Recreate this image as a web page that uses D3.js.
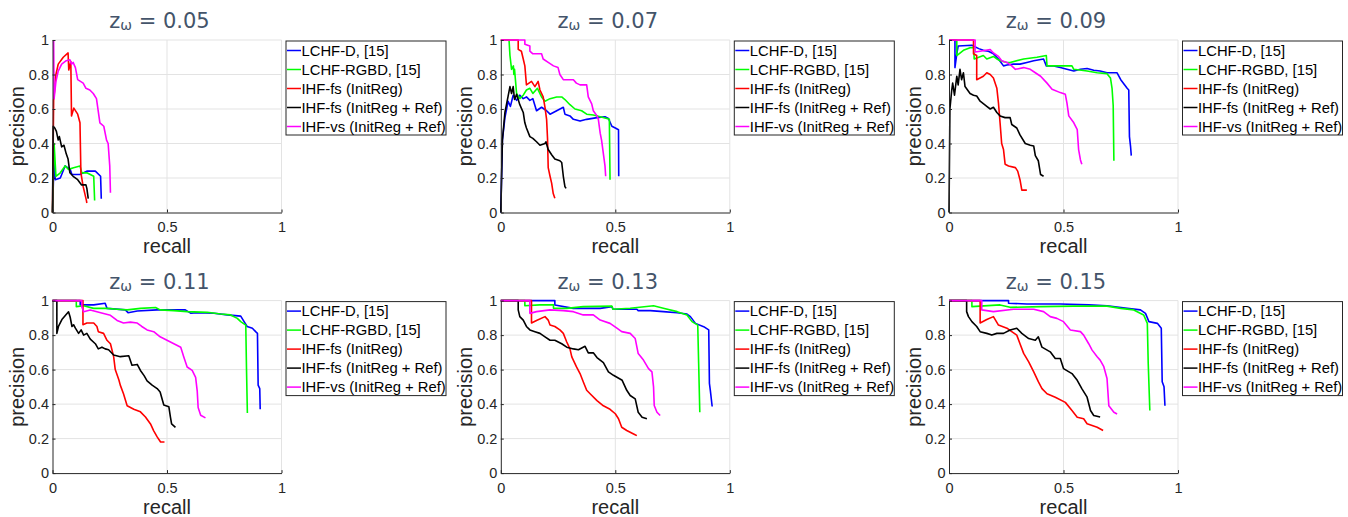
<!DOCTYPE html>
<html><head><meta charset="utf-8">
<script src="https://cdn.jsdelivr.net/npm/d3@7"></script>
<style>body{margin:0;background:#fff}svg{display:block}</style>
</head><body><svg id="c" width="1348" height="517"></svg>
<script>
// ---------- data ----------
const zValues = ["0.05", "0.07", "0.09", "0.11", "0.13", "0.15"];
const seriesNames = ["LCHF-D, [15]", "LCHF-RGBD, [15]", "IHF-fs (InitReg)", "IHF-fs (InitReg + Ref)", "IHF-vs (InitReg + Ref)"];
const seriesColors = ["#0000ff", "#00ff00", "#ff0000", "#000000", "#ff00ff"];
const xTicks = [0, 0.5, 1];
const yTicks = [0, 0.2, 0.4, 0.6, 0.8, 1];
const xLabel = "recall";
const yLabel = "precision";

// z = 0.05  ([recall, precision])
const lchfD_005 = [[0,0],[0.007,0.32],[0.012,0.19],[0.034,0.2],[0.055,0.27],[0.077,0.25],[0.085,0.22],[0.12,0.22],[0.15,0.24],[0.187,0.24],[0.21,0.21],[0.213,0.08]];
const lchfRGBD_005 = [[0,0],[0.007,0.4],[0.015,0.21],[0.034,0.23],[0.055,0.27],[0.07,0.25],[0.092,0.26],[0.12,0.27],[0.128,0.23],[0.15,0.23],[0.18,0.21],[0.184,0.07]];
const ihfFs_005 = [[0,0],[0.005,0.65],[0.015,0.8],[0.025,0.86],[0.047,0.9],[0.068,0.925],[0.071,0.826],[0.08,0.875],[0.083,0.56],[0.093,0.605],[0.11,0.57],[0.12,0.52],[0.124,0.23],[0.134,0.15],[0.148,0.07],[0.15,0.055]];
const ihfFsRef_005 = [[0,0],[0.003,0.5],[0.01,0.49],[0.017,0.47],[0.025,0.42],[0.03,0.44],[0.04,0.38],[0.05,0.39],[0.06,0.34],[0.068,0.31],[0.076,0.23],[0.09,0.21],[0.11,0.19],[0.127,0.16],[0.146,0.16],[0.15,0.14],[0.156,0.08]];
const ihfVs_005 = [[0.005,1],[0.007,0.66],[0.015,0.76],[0.025,0.82],[0.04,0.86],[0.06,0.88],[0.076,0.885],[0.083,0.86],[0.09,0.87],[0.1,0.84],[0.11,0.77],[0.134,0.75],[0.146,0.72],[0.163,0.71],[0.178,0.69],[0.192,0.66],[0.207,0.52],[0.224,0.5],[0.236,0.42],[0.243,0.4],[0.25,0.27],[0.253,0.115]];

// z = 0.07
const lchfD_007 = [[0,0],[0.007,0.42],[0.018,0.55],[0.032,0.645],[0.042,0.615],[0.054,0.68],[0.069,0.65],[0.083,0.68],[0.098,0.66],[0.112,0.67],[0.127,0.65],[0.14,0.66],[0.156,0.59],[0.178,0.61],[0.2,0.59],[0.215,0.57],[0.244,0.59],[0.273,0.61],[0.28,0.57],[0.302,0.56],[0.317,0.54],[0.346,0.53],[0.375,0.54],[0.42,0.55],[0.455,0.555],[0.47,0.545],[0.485,0.5],[0.5,0.49],[0.514,0.48],[0.515,0.21]];
const lchfRGBD_007 = [[0,1],[0.036,1],[0.04,0.91],[0.047,0.83],[0.055,0.85],[0.057,0.8],[0.06,0.83],[0.069,0.69],[0.083,0.66],[0.098,0.68],[0.112,0.71],[0.127,0.72],[0.14,0.69],[0.16,0.72],[0.178,0.67],[0.193,0.645],[0.215,0.66],[0.244,0.67],[0.266,0.67],[0.28,0.655],[0.302,0.625],[0.324,0.6],[0.353,0.59],[0.375,0.57],[0.404,0.565],[0.434,0.555],[0.463,0.545],[0.474,0.54],[0.477,0.19]];
const ihfFs_007 = [[0,1],[0.076,1],[0.076,0.946],[0.09,0.935],[0.098,0.89],[0.105,0.85],[0.112,0.74],[0.134,0.76],[0.149,0.73],[0.163,0.76],[0.171,0.71],[0.185,0.67],[0.193,0.61],[0.2,0.54],[0.204,0.43],[0.207,0.26],[0.215,0.21],[0.222,0.17],[0.229,0.11],[0.236,0.083]];
const ihfFsRef_007 = [[0,0],[0.007,0.42],[0.018,0.58],[0.032,0.675],[0.04,0.73],[0.047,0.69],[0.054,0.73],[0.06,0.655],[0.069,0.685],[0.083,0.625],[0.098,0.58],[0.105,0.52],[0.112,0.49],[0.127,0.44],[0.14,0.43],[0.156,0.41],[0.171,0.39],[0.193,0.4],[0.197,0.41],[0.207,0.365],[0.222,0.335],[0.236,0.31],[0.258,0.3],[0.266,0.29],[0.273,0.21],[0.28,0.15],[0.285,0.14]];
const ihfVs_007 = [[0,1],[0.105,1],[0.105,0.975],[0.127,0.965],[0.127,0.935],[0.14,0.92],[0.178,0.92],[0.185,0.89],[0.207,0.87],[0.23,0.85],[0.25,0.84],[0.258,0.8],[0.273,0.77],[0.317,0.77],[0.33,0.75],[0.346,0.74],[0.375,0.74],[0.382,0.67],[0.397,0.63],[0.404,0.59],[0.42,0.56],[0.426,0.54],[0.434,0.46],[0.44,0.42],[0.448,0.34],[0.455,0.27],[0.458,0.21]];

// z = 0.09
const lchfD_009 = [[0,1],[0.026,1],[0.026,0.84],[0.034,0.92],[0.04,0.965],[0.1,0.97],[0.13,0.95],[0.15,0.94],[0.172,0.935],[0.194,0.92],[0.216,0.89],[0.238,0.85],[0.253,0.855],[0.282,0.86],[0.31,0.86],[0.34,0.87],[0.37,0.88],[0.413,0.89],[0.425,0.85],[0.457,0.85],[0.486,0.84],[0.515,0.83],[0.545,0.82],[0.574,0.83],[0.603,0.835],[0.632,0.825],[0.66,0.82],[0.69,0.81],[0.734,0.81],[0.75,0.77],[0.778,0.72],[0.785,0.71],[0.788,0.44],[0.793,0.38],[0.796,0.33]];
const lchfRGBD_009 = [[0,1],[0.034,1],[0.034,0.91],[0.063,0.94],[0.092,0.955],[0.108,0.955],[0.11,0.89],[0.15,0.91],[0.165,0.89],[0.194,0.905],[0.21,0.89],[0.223,0.88],[0.253,0.87],[0.267,0.87],[0.326,0.89],[0.384,0.9],[0.425,0.91],[0.428,0.85],[0.486,0.85],[0.537,0.85],[0.545,0.83],[0.603,0.82],[0.647,0.81],[0.69,0.805],[0.705,0.78],[0.712,0.72],[0.717,0.62],[0.72,0.3]];
const ihfFs_009 = [[0,1],[0.107,1],[0.107,0.92],[0.121,0.91],[0.121,0.77],[0.15,0.79],[0.165,0.81],[0.18,0.8],[0.194,0.78],[0.209,0.72],[0.216,0.635],[0.223,0.52],[0.23,0.4],[0.238,0.365],[0.245,0.28],[0.26,0.27],[0.29,0.26],[0.3,0.24],[0.31,0.19],[0.318,0.13],[0.34,0.13]];
const ihfFsRef_009 = [[0,0],[0.004,0.6],[0.012,0.71],[0.016,0.75],[0.024,0.68],[0.034,0.79],[0.04,0.74],[0.048,0.83],[0.055,0.77],[0.063,0.81],[0.07,0.73],[0.092,0.69],[0.107,0.68],[0.121,0.675],[0.136,0.645],[0.165,0.615],[0.18,0.6],[0.194,0.61],[0.209,0.58],[0.223,0.56],[0.245,0.55],[0.267,0.55],[0.274,0.51],[0.296,0.49],[0.31,0.45],[0.333,0.4],[0.355,0.39],[0.37,0.385],[0.377,0.33],[0.39,0.3],[0.4,0.22],[0.413,0.21]];
const ihfVs_009 = [[0,1],[0.114,1],[0.114,0.93],[0.136,0.935],[0.18,0.945],[0.194,0.925],[0.216,0.905],[0.23,0.88],[0.253,0.87],[0.274,0.85],[0.29,0.83],[0.326,0.84],[0.355,0.83],[0.377,0.81],[0.4,0.79],[0.428,0.75],[0.45,0.715],[0.486,0.695],[0.508,0.685],[0.515,0.635],[0.523,0.56],[0.545,0.52],[0.56,0.48],[0.566,0.365],[0.574,0.305],[0.58,0.28]];

// z = 0.11
const lchfD_011 = [[0,1],[0.121,1],[0.121,0.975],[0.18,0.975],[0.23,0.985],[0.238,0.955],[0.318,0.946],[0.33,0.93],[0.37,0.94],[0.457,0.946],[0.58,0.946],[0.603,0.927],[0.632,0.93],[0.705,0.927],[0.763,0.917],[0.822,0.91],[0.836,0.88],[0.85,0.85],[0.873,0.84],[0.887,0.82],[0.895,0.81],[0.898,0.51],[0.905,0.49],[0.907,0.37]];
const lchfRGBD_011 = [[0,1],[0.104,1],[0.104,0.965],[0.136,0.97],[0.18,0.955],[0.238,0.955],[0.282,0.95],[0.326,0.946],[0.384,0.955],[0.45,0.96],[0.47,0.946],[0.53,0.942],[0.588,0.936],[0.676,0.932],[0.734,0.922],[0.778,0.917],[0.807,0.897],[0.822,0.878],[0.844,0.858],[0.847,0.615],[0.851,0.348]];
const ihfFs_011 = [[0,1],[0.133,1],[0.133,0.86],[0.15,0.87],[0.18,0.87],[0.194,0.85],[0.2,0.82],[0.223,0.81],[0.238,0.77],[0.253,0.75],[0.267,0.675],[0.274,0.6],[0.29,0.54],[0.296,0.51],[0.31,0.46],[0.326,0.39],[0.355,0.37],[0.384,0.355],[0.406,0.325],[0.428,0.285],[0.442,0.245],[0.457,0.21],[0.472,0.18],[0.489,0.18]];
const ihfFsRef_011 = [[0,1],[0.019,1],[0.019,0.81],[0.026,0.85],[0.041,0.89],[0.07,0.935],[0.077,0.905],[0.085,0.85],[0.092,0.86],[0.1,0.84],[0.114,0.81],[0.125,0.83],[0.136,0.8],[0.15,0.81],[0.165,0.777],[0.187,0.75],[0.2,0.72],[0.216,0.73],[0.23,0.72],[0.245,0.715],[0.267,0.685],[0.296,0.675],[0.333,0.68],[0.347,0.625],[0.37,0.63],[0.384,0.595],[0.4,0.565],[0.413,0.535],[0.435,0.51],[0.457,0.49],[0.47,0.47],[0.486,0.395],[0.508,0.385],[0.515,0.325],[0.52,0.285],[0.537,0.265]];
const ihfVs_011 = [[0,1],[0.128,1],[0.128,0.965],[0.136,0.935],[0.165,0.945],[0.194,0.935],[0.223,0.925],[0.253,0.915],[0.282,0.885],[0.31,0.87],[0.34,0.875],[0.37,0.87],[0.39,0.85],[0.413,0.83],[0.442,0.82],[0.47,0.79],[0.5,0.77],[0.53,0.75],[0.56,0.73],[0.573,0.675],[0.588,0.615],[0.61,0.595],[0.625,0.555],[0.632,0.475],[0.636,0.38],[0.647,0.335],[0.668,0.32]];

// z = 0.13
const lchfD_013 = [[0,1],[0.236,1],[0.236,0.975],[0.317,0.955],[0.434,0.955],[0.485,0.965],[0.49,0.95],[0.594,0.95],[0.6,0.942],[0.653,0.942],[0.71,0.936],[0.77,0.93],[0.813,0.922],[0.828,0.907],[0.85,0.868],[0.886,0.849],[0.908,0.83],[0.911,0.52],[0.915,0.48],[0.923,0.386]];
const lchfRGBD_013 = [[0,1],[0.105,1],[0.105,0.97],[0.17,0.975],[0.23,0.975],[0.23,0.955],[0.288,0.955],[0.36,0.965],[0.485,0.968],[0.49,0.95],[0.565,0.956],[0.667,0.97],[0.71,0.956],[0.77,0.936],[0.813,0.917],[0.835,0.878],[0.86,0.858],[0.864,0.635],[0.869,0.353]];
const ihfFs_013 = [[0,1],[0.134,1],[0.134,0.87],[0.156,0.885],[0.193,0.907],[0.207,0.887],[0.215,0.858],[0.236,0.85],[0.258,0.83],[0.273,0.81],[0.288,0.76],[0.302,0.72],[0.31,0.674],[0.33,0.617],[0.346,0.577],[0.36,0.53],[0.375,0.48],[0.39,0.46],[0.42,0.42],[0.448,0.39],[0.477,0.37],[0.5,0.344],[0.514,0.315],[0.528,0.266],[0.55,0.247],[0.58,0.227],[0.594,0.217]];
const ihfFsRef_013 = [[0,1],[0.076,1],[0.076,0.946],[0.083,0.907],[0.098,0.887],[0.112,0.85],[0.127,0.83],[0.149,0.82],[0.171,0.81],[0.193,0.79],[0.215,0.77],[0.236,0.77],[0.266,0.75],[0.288,0.73],[0.317,0.72],[0.339,0.715],[0.368,0.735],[0.382,0.697],[0.404,0.697],[0.42,0.67],[0.448,0.64],[0.47,0.587],[0.492,0.567],[0.53,0.538],[0.55,0.48],[0.565,0.45],[0.587,0.43],[0.6,0.353],[0.617,0.324],[0.638,0.315]];
const ihfVs_013 = [[0,1],[0.127,1],[0.127,0.926],[0.156,0.936],[0.215,0.946],[0.273,0.942],[0.317,0.936],[0.36,0.917],[0.404,0.917],[0.434,0.887],[0.477,0.868],[0.507,0.84],[0.528,0.82],[0.565,0.81],[0.587,0.78],[0.6,0.693],[0.623,0.655],[0.645,0.606],[0.66,0.587],[0.667,0.5],[0.67,0.392],[0.682,0.353],[0.696,0.334]];

// z = 0.15
const lchfD_015 = [[0,1],[0.26,1],[0.26,0.985],[0.34,0.98],[0.486,0.98],[0.61,0.975],[0.69,0.97],[0.778,0.955],[0.836,0.946],[0.858,0.926],[0.873,0.878],[0.91,0.868],[0.927,0.84],[0.931,0.53],[0.939,0.5],[0.943,0.39]];
const lchfRGBD_015 = [[0,1],[0.1,1],[0.1,0.965],[0.223,0.975],[0.267,0.961],[0.4,0.965],[0.545,0.968],[0.69,0.968],[0.75,0.955],[0.807,0.946],[0.85,0.917],[0.866,0.868],[0.87,0.635],[0.877,0.363]];
const ihfFs_015 = [[0,1],[0.136,1],[0.136,0.87],[0.165,0.89],[0.194,0.907],[0.216,0.858],[0.253,0.84],[0.274,0.82],[0.296,0.8],[0.31,0.75],[0.326,0.694],[0.348,0.645],[0.37,0.587],[0.39,0.53],[0.406,0.49],[0.428,0.46],[0.464,0.44],[0.508,0.41],[0.537,0.363],[0.56,0.324],[0.588,0.315],[0.603,0.286],[0.647,0.266],[0.673,0.247]];
const ihfFsRef_015 = [[0,1],[0.077,1],[0.077,0.936],[0.085,0.907],[0.1,0.878],[0.121,0.85],[0.136,0.82],[0.165,0.81],[0.187,0.8],[0.209,0.81],[0.238,0.81],[0.267,0.83],[0.296,0.84],[0.318,0.81],[0.348,0.78],[0.377,0.77],[0.39,0.79],[0.406,0.73],[0.442,0.703],[0.464,0.664],[0.486,0.664],[0.5,0.606],[0.537,0.577],[0.56,0.538],[0.58,0.49],[0.603,0.44],[0.618,0.363],[0.632,0.334],[0.66,0.325]];
const ihfVs_015 = [[0,1],[0.143,1],[0.143,0.946],[0.194,0.936],[0.282,0.95],[0.37,0.95],[0.413,0.936],[0.442,0.907],[0.471,0.897],[0.5,0.878],[0.53,0.83],[0.574,0.82],[0.588,0.8],[0.61,0.75],[0.625,0.713],[0.647,0.674],[0.66,0.655],[0.676,0.617],[0.69,0.548],[0.698,0.39],[0.72,0.353],[0.734,0.343]];

const panelSeries = [
  [lchfD_005, lchfRGBD_005, ihfFs_005, ihfFsRef_005, ihfVs_005],
  [lchfD_007, lchfRGBD_007, ihfFs_007, ihfFsRef_007, ihfVs_007],
  [lchfD_009, lchfRGBD_009, ihfFs_009, ihfFsRef_009, ihfVs_009],
  [lchfD_011, lchfRGBD_011, ihfFs_011, ihfFsRef_011, ihfVs_011],
  [lchfD_013, lchfRGBD_013, ihfFs_013, ihfFsRef_013, ihfVs_013],
  [lchfD_015, lchfRGBD_015, ihfFs_015, ihfFsRef_015, ihfVs_015]
];

// ---------- layout ----------
const svg = d3.select("#c");
const colLeft = [52.5, 500.8, 949];
const rowTop = [40, 300.6];
const pw = 229, ph = 172.5;
const axisColor = "#262626";
const gridColor = "#e3e3e3";
const tickFont = "Liberation Sans, Arial, sans-serif";

panelSeries.forEach((series, i) => {
  const left = colLeft[i % 3], top = rowTop[Math.floor(i / 3)];
  const x = d3.scaleLinear().domain([0, 1]).range([left, left + pw]);
  const y = d3.scaleLinear().domain([0, 1]).range([top + ph, top]);
  const g = svg.append("g");

  // grid
  g.append("g").selectAll("line").data(xTicks.filter(d => d > 0)).join("line")
    .attr("x1", d => x(d)).attr("x2", d => x(d)).attr("y1", y(0)).attr("y2", y(1))
    .attr("stroke", gridColor).attr("stroke-width", 1);
  g.append("g").selectAll("line").data(yTicks.filter(d => d > 0)).join("line")
    .attr("x1", x(0)).attr("x2", x(1)).attr("y1", d => y(d)).attr("y2", d => y(d))
    .attr("stroke", gridColor).attr("stroke-width", 1);

  // series
  const line = d3.line().x(d => x(d[0])).y(d => y(d[1]));
  series.forEach((s, k) => {
    g.append("path").datum(s).attr("d", line).attr("fill", "none")
      .attr("stroke", seriesColors[k]).attr("stroke-width", 1.6)
      .attr("stroke-linejoin", "round");
  });

  // axes
  const xa = g.append("g").attr("transform", `translate(0,${y(0)})`)
    .call(d3.axisBottom(x).tickValues(xTicks).tickFormat(d3.format("~g")).tickSizeInner(-3).tickSizeOuter(0).tickPadding(9.5));
  const ya = g.append("g").attr("transform", `translate(${x(0)},0)`)
    .call(d3.axisLeft(y).tickValues(yTicks).tickFormat(d3.format("~g")).tickSizeInner(-3).tickSizeOuter(0).tickPadding(3.5));
  [xa, ya].forEach(a => {
    a.select(".domain").attr("stroke", axisColor);
    a.selectAll(".tick line").attr("stroke", axisColor);
    a.selectAll("text").attr("fill", axisColor).style("font-family", tickFont).style("font-size", "14.5px");
  });

  // axis labels
  g.append("text").attr("x", (x(0) + x(1)) / 2).attr("y", y(0) + 40.5)
    .attr("text-anchor", "middle").attr("fill", axisColor)
    .style("font-family", tickFont).style("font-size", "20px").text(xLabel);
  g.append("text").attr("transform", `translate(${left - 28.5},${(y(0) + y(1)) / 2}) rotate(-90)`)
    .attr("text-anchor", "middle").attr("fill", axisColor)
    .style("font-family", tickFont).style("font-size", "20px").text(yLabel);

  // title
  const t = g.append("text").attr("x", left + 107).attr("y", top - 12)
    .attr("text-anchor", "middle").attr("fill", "#44546a")
    .style("font-family", "DejaVu Sans, sans-serif").style("font-size", "21px");
  t.append("tspan").text("z");
  t.append("tspan").attr("dy", 2).style("font-size", "14px").text("ω");
  t.append("tspan").attr("dy", -2).text(" = " + zValues[i]);

  // legend
  const lx = left + 233.5, ly = top + 1;
  g.append("rect").attr("x", lx).attr("y", ly).attr("width", 160).attr("height", 94)
    .attr("fill", "#fff").attr("stroke", axisColor).attr("stroke-width", 1);
  seriesNames.forEach((name, k) => {
    const yy = ly + 9.5 + k * 19;
    g.append("line").attr("x1", lx + 1).attr("x2", lx + 15).attr("y1", yy).attr("y2", yy)
      .attr("stroke", seriesColors[k]).attr("stroke-width", 1.5);
    g.append("text").attr("x", lx + 15.5).attr("y", yy).attr("dy", "0.35em")
      .attr("fill", "#000").style("font-family", tickFont).style("font-size", "14.8px").text(name);
  });
});
</script></body></html>
